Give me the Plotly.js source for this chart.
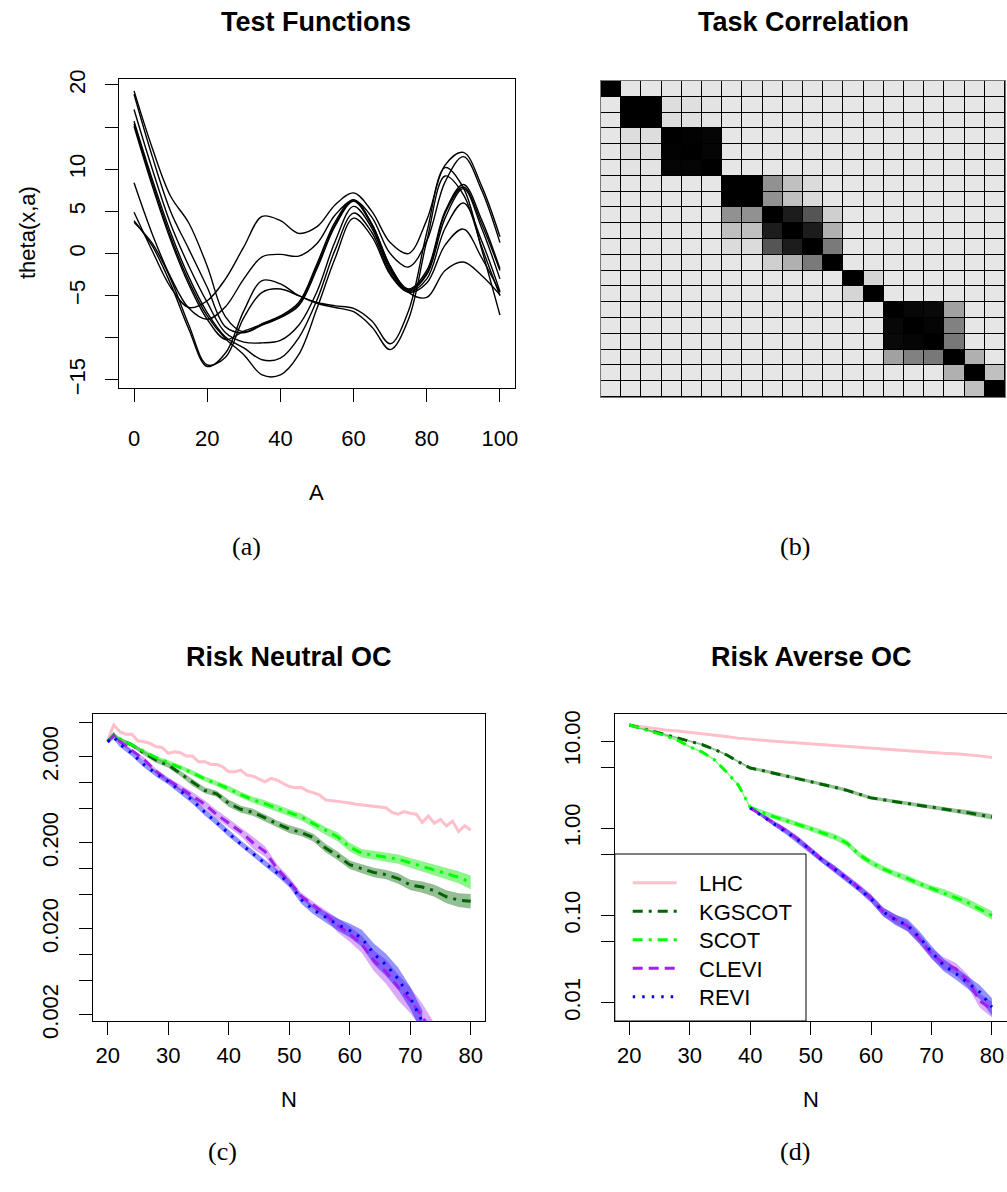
<!DOCTYPE html>
<html><head><meta charset="utf-8">
<script src="https://cdn.plot.ly/plotly-3.0.1.min.js"></script>
<style>html,body{margin:0;padding:0;background:#fff}#chart{width:1007px;height:1192px}</style>
</head><body><div id="chart"></div>
<script>
// ---------- Panel (a): test functions ----------
const aX = [0,5,10,15,20,25,30,35,40,45,50,55,60,65,70,75,80,85,90,95,100];
const theta1 = [4.9,0.3,-4.0,-6.4,-5.6,-3.0,0.8,4.4,3.9,2.4,3.2,5.8,7.2,5.0,1.3,0.0,4.0,10.5,12.0,8.0,2.0];
const theta2 = [8.4,2.3,-2.8,-6.5,-7.8,-6.3,-3.0,-0.4,-0.1,-0.3,1.2,4.6,6.3,4.3,0.0,-1.6,1.5,8.5,11.5,7.5,1.3];
const theta3 = [3.9,0.9,-3.6,-9.0,-13.4,-11.8,-6.8,-3.2,-3.6,-5.0,-5.8,-6.2,-6.5,-8.0,-10.7,-6.8,2.5,10.2,7.8,0.5,-7.3];
const theta4 = [3.7,1.2,-3.0,-8.5,-13.2,-12.3,-7.6,-4.6,-4.2,-5.0,-5.9,-6.4,-6.9,-8.7,-11.4,-7.8,1.5,9.2,7.0,0.8,-5.0];
const theta5 = [19.3,12.5,6.8,3.6,-1.5,-7.5,-9.3,-8.3,-7.4,-5.8,-1.2,3.8,6.4,3.5,-1.5,-4.2,-2.0,5.0,8.2,4.0,-1.8];
const theta6 = [18.9,11.5,5.0,0.5,-4.0,-8.7,-9.4,-8.5,-7.6,-6.2,-1.8,3.3,6.2,3.3,-1.8,-4.3,-2.3,4.8,7.9,3.5,-2.0];
const theta7 = [17.1,10.0,3.5,-1.5,-5.8,-9.4,-10.5,-10.6,-10.3,-8.5,-4.5,1.5,5.6,3.0,-2.0,-4.4,-2.5,4.2,7.7,3.0,-3.0];
const theta8 = [15.7,8.8,2.5,-2.8,-7.0,-9.9,-11.2,-12.6,-12.4,-10.0,-5.5,0.5,4.8,2.5,-2.3,-4.5,-3.0,3.0,6.0,1.5,-4.5];
const theta9 = [15.4,8.4,2.0,-3.3,-7.4,-10.1,-12.0,-14.4,-14.4,-12.0,-6.5,-0.5,4.2,2.0,-2.5,-4.6,-3.5,1.0,2.9,-0.5,-4.6];
const theta10 = [15.1,8.0,1.6,-3.7,-7.8,-10.2,-9.2,-8.4,-7.5,-6.0,-1.5,3.5,6.3,3.5,-1.5,-4.6,-5.2,-2.0,-1.0,-2.6,-4.9];
const aXticks = [0,20,40,60,80,100];
const aYticks = [-15,-10,-5,0,5,10,15,20];
const aYtickText = ['\u221215','','\u22125','0','5','10','','20'];

// ---------- Panel (b): task correlation ----------
const corrRows = [
 [1,0,0,0,0,0,0,0,0,0,0,0,0,0,0,0,0,0,0,0],
 [0,1,1,0.04,0.03,0.015,0,0,0,0,0,0,0,0,0,0,0,0,0,0],
 [0,1,1,0.04,0.03,0.015,0,0,0,0,0,0,0,0,0,0,0,0,0,0],
 [0,0.04,0.04,1,0.99,0.98,0,0,0,0,0,0,0,0,0,0,0,0,0,0],
 [0,0.03,0.03,0.99,1,0.98,0,0,0,0,0,0,0,0,0,0,0,0,0,0],
 [0,0.015,0.015,0.98,0.98,1,0,0,0,0,0,0,0,0,0,0,0,0,0,0],
 [0,0,0,0,0,0,1,1,0.37,0.165,0.05,0,0,0,0,0,0,0,0,0],
 [0,0,0,0,0,0,1,1,0.37,0.165,0.05,0,0,0,0,0,0,0,0,0],
 [0,0,0,0,0,0,0.37,0.37,1,0.88,0.63,0.10,0,0,0,0,0,0,0,0],
 [0,0,0,0,0,0,0.165,0.165,0.88,1,0.88,0.235,0,0,0,0,0,0,0,0],
 [0,0,0,0,0,0,0.05,0.05,0.63,0.88,1,0.47,0,0,0,0,0,0,0,0],
 [0,0,0,0,0,0,0,0,0.10,0.235,0.47,1,0,0,0,0,0,0,0,0],
 [0,0,0,0,0,0,0,0,0,0,0,0,1,0.074,0,0,0,0,0,0],
 [0,0,0,0,0,0,0,0,0,0,0,0,0.074,1,0,0,0,0,0,0],
 [0,0,0,0,0,0,0,0,0,0,0,0,0,0,1,0.97,0.96,0.30,0,0],
 [0,0,0,0,0,0,0,0,0,0,0,0,0,0,0.97,1,0.98,0.44,0,0],
 [0,0,0,0,0,0,0,0,0,0,0,0,0,0,0.96,0.98,1,0.48,0,0],
 [0,0,0,0,0,0,0,0,0,0,0,0,0,0,0.30,0.44,0.48,1,0.235,0],
 [0,0,0,0,0,0,0,0,0,0,0,0,0,0,0,0,0,0.235,1,0.165],
 [0,0,0,0,0,0,0,0,0,0,0,0,0,0,0,0,0,0,0.165,1]
];
const taskIdx = [0,1,2,3,4,5,6,7,8,9,10,11,12,13,14,15,16,17,18,19];

// ---------- Panel (c): risk neutral OC ----------
const cLhcN = [20,21,22,23,24,25,26,27,28,29,30,31,32,33,34,35,36,37,38,39,40,41,42,43,44,45,46,47,48,49,50,51,52,53,54,55,56,57,58,59,60,61,62,63,64,65,66,67,68,69,70,71,72,73,74,75,76,77,78,79,80];
const cLhc = [3.13,4.67,3.91,3.64,3.64,3.07,2.99,2.86,2.61,2.56,2.19,2.29,2.23,2.04,2.04,1.75,1.75,1.64,1.63,1.53,1.34,1.34,1.40,1.22,1.19,1.10,1.02,1.12,1.07,0.98,0.90,0.87,0.88,0.80,0.76,0.72,0.63,0.62,0.61,0.60,0.58,0.56,0.55,0.54,0.53,0.52,0.51,0.45,0.43,0.46,0.44,0.43,0.345,0.408,0.337,0.374,0.313,0.357,0.269,0.315,0.281];
const cLhcBand = cLhcN.map(() => 0.015);
const cN = [20,21,22,24,26,28,30,32,34,36,38,40,42,44,46,48,50,52,54,56,58,60,62,64,66,68,70,72,74,76,78,80];
const cKg = [2.99,3.63,3.16,2.74,2.21,1.82,1.60,1.28,1.00,0.813,0.741,0.575,0.490,0.452,0.389,0.331,0.288,0.263,0.229,0.174,0.141,0.111,0.100,0.0902,0.0851,0.0767,0.0646,0.0610,0.0553,0.0471,0.0431,0.0417];
const cKgBand = [0.01,0.02,0.02,0.025,0.025,0.03,0.03,0.03,0.035,0.035,0.035,0.04,0.04,0.04,0.04,0.04,0.045,0.045,0.045,0.05,0.05,0.05,0.05,0.055,0.055,0.06,0.06,0.065,0.07,0.075,0.08,0.085];
const cScot = [2.99,3.63,3.24,2.74,2.32,1.95,1.72,1.51,1.30,1.11,0.977,0.851,0.724,0.631,0.569,0.501,0.447,0.398,0.331,0.275,0.234,0.178,0.151,0.143,0.136,0.129,0.117,0.106,0.0955,0.0871,0.0794,0.0692];
const cScotBand = [0.01,0.02,0.02,0.02,0.02,0.02,0.025,0.025,0.03,0.03,0.03,0.035,0.035,0.035,0.04,0.04,0.04,0.04,0.045,0.045,0.05,0.05,0.05,0.05,0.055,0.055,0.055,0.06,0.06,0.065,0.07,0.08];
const cCleviN = [20,21,22,24,26,28,30,32,34,36,38,40,42,44,46,48,50,52,54,56,58,60,62,64,66,68,70,72,74];
const cClevi = [2.99,3.55,3.02,2.34,1.86,1.35,1.07,0.871,0.708,0.562,0.427,0.339,0.269,0.200,0.158,0.100,0.0708,0.0479,0.0372,0.0295,0.0219,0.0174,0.0132,0.00851,0.00631,0.00417,0.00295,0.00191,0.00112];
const cCleviBand = [0.01,0.02,0.02,0.02,0.025,0.03,0.03,0.035,0.04,0.045,0.05,0.05,0.05,0.07,0.06,0.05,0.05,0.04,0.04,0.05,0.08,0.09,0.10,0.12,0.14,0.15,0.15,0.15,0.15];
const cReviN = [20,21,22,24,26,28,30,32,34,36,38,40,42,44,46,48,50,52,54,56,58,60,62,64,66,68,70,72];
const cRevi = [2.99,3.39,2.82,2.19,1.62,1.27,1.03,0.794,0.624,0.457,0.347,0.257,0.193,0.150,0.116,0.0891,0.0676,0.0437,0.0331,0.0275,0.0224,0.0191,0.0155,0.0102,0.00759,0.00525,0.00316,0.00166];
const cReviBand = [0.01,0.03,0.035,0.035,0.035,0.035,0.035,0.035,0.04,0.04,0.04,0.04,0.04,0.04,0.04,0.04,0.045,0.05,0.05,0.06,0.07,0.08,0.10,0.12,0.13,0.13,0.13,0.13];
const cYticks = [5,2,1,0.5,0.2,0.1,0.05,0.02,0.01,0.005,0.002];
const cYtickText = ['','2.000','','','0.200','','','0.020','','','0.002'];

// ---------- Panel (d): risk averse OC ----------
const dN = [20,22,24,26,28,30,32,34,36,38,40,42,44,46,48,50,52,54,56,58,60,62,64,66,68,70,72,74,76,78,80];
const dLhc = [15.3,14.6,14.0,13.4,13.0,12.6,12.2,11.7,11.3,10.8,10.4,10.2,9.95,9.72,9.51,9.25,9.08,8.87,8.67,8.45,8.24,8.04,7.82,7.67,7.50,7.35,7.24,7.14,7.00,6.76,6.49];
const dLhcBand = dN.map(() => 0.01);
const dKg = [15.3,14.0,12.9,11.9,10.8,10.0,9.12,8.04,7.00,5.82,4.90,4.59,4.27,3.98,3.72,3.47,3.20,2.95,2.72,2.45,2.23,2.12,2.02,1.92,1.83,1.76,1.67,1.58,1.51,1.42,1.35];
const dKgBand = [0.012,0.012,0.012,0.012,0.012,0.012,0.012,0.012,0.012,0.012,0.014,0.02,0.02,0.02,0.02,0.02,0.02,0.02,0.02,0.02,0.02,0.02,0.02,0.025,0.025,0.025,0.025,0.025,0.03,0.03,0.03];
const dScot = [15.3,14.0,12.6,11.5,10.2,8.61,7.50,6.17,4.47,3.16,1.74,1.51,1.35,1.22,1.10,0.989,0.881,0.794,0.676,0.501,0.403,0.343,0.299,0.266,0.231,0.204,0.184,0.160,0.140,0.119,0.100];
const dScotBand = [0.012,0.012,0.012,0.012,0.012,0.012,0.012,0.012,0.012,0.012,0.02,0.03,0.03,0.03,0.03,0.03,0.035,0.035,0.035,0.035,0.035,0.035,0.035,0.035,0.035,0.035,0.04,0.04,0.045,0.045,0.05];
const dLateN = [40,42,44,46,48,50,52,54,56,58,60,62,64,66,68,70,72,74,76,78,80];
const dClevi = [1.71,1.41,1.14,0.933,0.741,0.562,0.427,0.339,0.269,0.209,0.158,0.110,0.0912,0.0759,0.0537,0.0363,0.0282,0.0245,0.0178,0.0105,0.00832];
const dCleviBand = [0.01,0.02,0.03,0.03,0.035,0.035,0.035,0.04,0.04,0.04,0.045,0.05,0.05,0.06,0.06,0.06,0.07,0.07,0.07,0.08,0.09];
const dRevi = [1.71,1.38,1.12,0.912,0.724,0.562,0.427,0.339,0.263,0.204,0.155,0.110,0.0891,0.0776,0.0562,0.0380,0.0269,0.0216,0.0170,0.0132,0.00891];
const dReviBand = [0.01,0.02,0.03,0.035,0.035,0.035,0.035,0.04,0.04,0.04,0.045,0.05,0.06,0.07,0.07,0.07,0.07,0.07,0.07,0.08,0.10];
const dYticks = [10,5,1,0.5,0.1,0.05,0.01];
const dYtickText = ['10.00','','1.00','','0.10','','0.01'];
const ocXticks = [20,30,40,50,60,70,80];

const methods = ['LHC','KGSCOT','SCOT','CLEVI','REVI'];

// ---------- styles ----------
const W = 1007, H = 1192;
const px = v => v / W;
const py = v => 1 - v / H;
const FONT = 'Liberation Sans, Arial, Helvetica, sans-serif';
const SERIF = 'Liberation Serif, Times New Roman, serif';
const styles = {
  LHC:    {color:'#FFC0CB', dash:'solid', band:'rgba(255,192,203,0.6)'},
  KGSCOT: {color:'#006400', dash:'10px,6px,3px,6px', band:'rgba(0,100,0,0.42)'},
  SCOT:   {color:'#00FF00', dash:'10px,6px,3px,6px', band:'rgba(0,235,0,0.45)'},
  CLEVI:  {color:'#A020F0', dash:'10px,6px', band:'rgba(160,32,240,0.38)'},
  REVI:   {color:'#0000FF', dash:'2.5px,7px', band:'rgba(0,0,255,0.42)'}
};

const traces = [];
[theta1,theta2,theta3,theta4,theta5,theta6,theta7,theta8,theta9,theta10].forEach(t => {
  traces.push({x:aX, y:t, xaxis:'x', yaxis:'y', mode:'lines', hoverinfo:'skip',
    line:{color:'black', width:1.4, shape:'spline', smoothing:1}});
});

traces.push({type:'heatmap', z:corrRows, x:taskIdx, y:taskIdx, xaxis:'x2', yaxis:'y2',
  zmin:0, zmax:1, colorscale:[[0,'#e6e6e6'],[1,'#000000']], showscale:false,
  xgap:1, ygap:1, hoverinfo:'skip'});

function band(x, v, b, name, xa, ya) {
  const hi = v.map((val,i) => val * Math.pow(10, b[i]));
  const lo = v.map((val,i) => val / Math.pow(10, b[i]));
  traces.push({x:x.concat(x.slice().reverse()), y:hi.concat(lo.slice().reverse()),
    xaxis:xa, yaxis:ya, mode:'lines', fill:'toself', fillcolor:styles[name].band,
    line:{width:0, color:'rgba(0,0,0,0)'}, hoverinfo:'skip'});
}
function line(x, v, name, xa, ya) {
  traces.push({x:x, y:v, xaxis:xa, yaxis:ya, mode:'lines', hoverinfo:'skip',
    line:{color:styles[name].color, width:3, dash:styles[name].dash}});
}
const cSets = [[cLhcN,cLhc,cLhcBand,'LHC'],[cN,cKg,cKgBand,'KGSCOT'],[cN,cScot,cScotBand,'SCOT'],
               [cCleviN,cClevi,cCleviBand,'CLEVI'],[cReviN,cRevi,cReviBand,'REVI']];
const dSets = [[dN,dLhc,dLhcBand,'LHC'],[dN,dKg,dKgBand,'KGSCOT'],[dN,dScot,dScotBand,'SCOT'],
               [dLateN,dClevi,dCleviBand,'CLEVI'],[dLateN,dRevi,dReviBand,'REVI']];
cSets.forEach(s => band(s[0],s[1],s[2],s[3],'x3','y3'));
cSets.forEach(s => line(s[0],s[1],s[3],'x3','y3'));
dSets.forEach(s => band(s[0],s[1],s[2],s[3],'x4','y4'));
dSets.forEach(s => line(s[0],s[1],s[3],'x4','y4'));

const tickFont = {family:FONT, size:22, color:'black'};
function baseAxis(extra) {
  return Object.assign({showline:true, mirror:true, linecolor:'black', linewidth:1,
    ticks:'outside', ticklen:13, tickwidth:1, tickcolor:'black', showgrid:false,
    zeroline:false, tickfont:tickFont, fixedrange:true, automargin:false}, extra);
}

const layout = {
  width:W, height:H, margin:{l:0,r:0,t:0,b:0}, paper_bgcolor:'white', plot_bgcolor:'white',
  showlegend:false,
  xaxis: baseAxis({domain:[px(119.4),px(514.6)], range:[-4,104], anchor:'y',
    tickmode:'array', tickvals:aXticks, ticklabelstandoff:18}),
  yaxis: baseAxis({domain:[py(388),py(79)], range:[-15.95,20.71], anchor:'x',
    tickmode:'array', tickvals:aYticks, ticktext:aYtickText, tickangle:-90, ticklabelstandoff:12}),
  xaxis2: {domain:[px(601),px(1005)], range:[-0.5,19.5], anchor:'y2', showticklabels:false,
    ticks:'', showgrid:false, zeroline:false, showline:true, mirror:true, linecolor:'#777', linewidth:1},
  yaxis2: {domain:[py(397),py(81)], range:[19.5,-0.5], anchor:'x2', showticklabels:false,
    ticks:'', showgrid:false, zeroline:false, showline:true, mirror:true, linecolor:'#777', linewidth:1},
  xaxis3: baseAxis({domain:[px(93.2),px(485.2)], range:[17.6,82.4], anchor:'y3',
    tickmode:'array', tickvals:ocXticks, ticklabelstandoff:2}),
  yaxis3: baseAxis({domain:[py(1021),py(714)], type:'log', range:[-2.772,0.798], anchor:'x3',
    tickmode:'array', tickvals:cYticks, ticktext:cYtickText, tickangle:-90, ticklabelstandoff:12}),
  xaxis4: baseAxis({domain:[px(614.8),px(1006.5)], range:[17.6,82.4], anchor:'y4',
    tickmode:'array', tickvals:ocXticks, ticklabelstandoff:2}),
  yaxis4: baseAxis({domain:[py(1021),py(714)], type:'log', range:[-2.21,1.31], anchor:'x4',
    tickmode:'array', tickvals:dYticks, ticktext:dYtickText, tickangle:-90, ticklabelstandoff:12}),
  shapes: [
    {type:'rect', xref:'x2', yref:'y2', x0:-0.5, x1:19.5, y0:-0.5, y1:19.5, fillcolor:'black',
     line:{width:0}, layer:'below'},
    {type:'rect', xref:'paper', yref:'paper', x0:px(614.8), x1:px(806), y0:py(1021), y1:py(854),
     fillcolor:'white', line:{color:'black', width:1}, layer:'above'}
  ],
  annotations: []
};

// legend rows
const legendY = [882.7, 911.2, 939.7, 968.2, 996.7];
methods.forEach((m,i) => {
  layout.shapes.push({type:'line', xref:'paper', yref:'paper', x0:px(632.7), x1:px(676.7),
    y0:py(legendY[i]), y1:py(legendY[i]), layer:'above',
    line:{color:styles[m].color, width:3, dash:styles[m].dash}});
  layout.annotations.push({xref:'paper', yref:'paper', x:px(697), y:py(legendY[i]+1),
    xanchor:'left', yanchor:'middle', showarrow:false, text:m, font:{family:FONT, size:22, color:'black'}});
});

function ann(text, x, y, size, opts) {
  layout.annotations.push(Object.assign({xref:'paper', yref:'paper', x:px(x), y:py(y),
    xanchor:'center', yanchor:'middle', showarrow:false, text:text,
    font:{family:FONT, size:size, color:'black'}}, opts || {}));
}
ann('<b>Test Functions</b>', 316, 22, 27);
ann('<b>Task Correlation</b>', 803, 22, 27);
ann('<b>Risk Neutral OC</b>', 289, 657, 27);
ann('<b>Risk Averse OC</b>', 811, 657, 27);
ann('A', 316, 492, 22);
ann('theta(x,a)', 28, 233, 22, {textangle:-90});
ann('N', 289, 1099, 22);
ann('N', 811, 1099, 22);
ann('(a)', 246, 547, 26, {font:{family:SERIF, size:26, color:'black'}});
ann('(b)', 795, 547, 26, {font:{family:SERIF, size:26, color:'black'}});
ann('(c)', 222, 1151, 26, {font:{family:SERIF, size:26, color:'black'}});
ann('(d)', 795, 1151, 26, {font:{family:SERIF, size:26, color:'black'}});

Plotly.newPlot('chart', traces, layout, {staticPlot:true, displayModeBar:false});
</script></body></html>
